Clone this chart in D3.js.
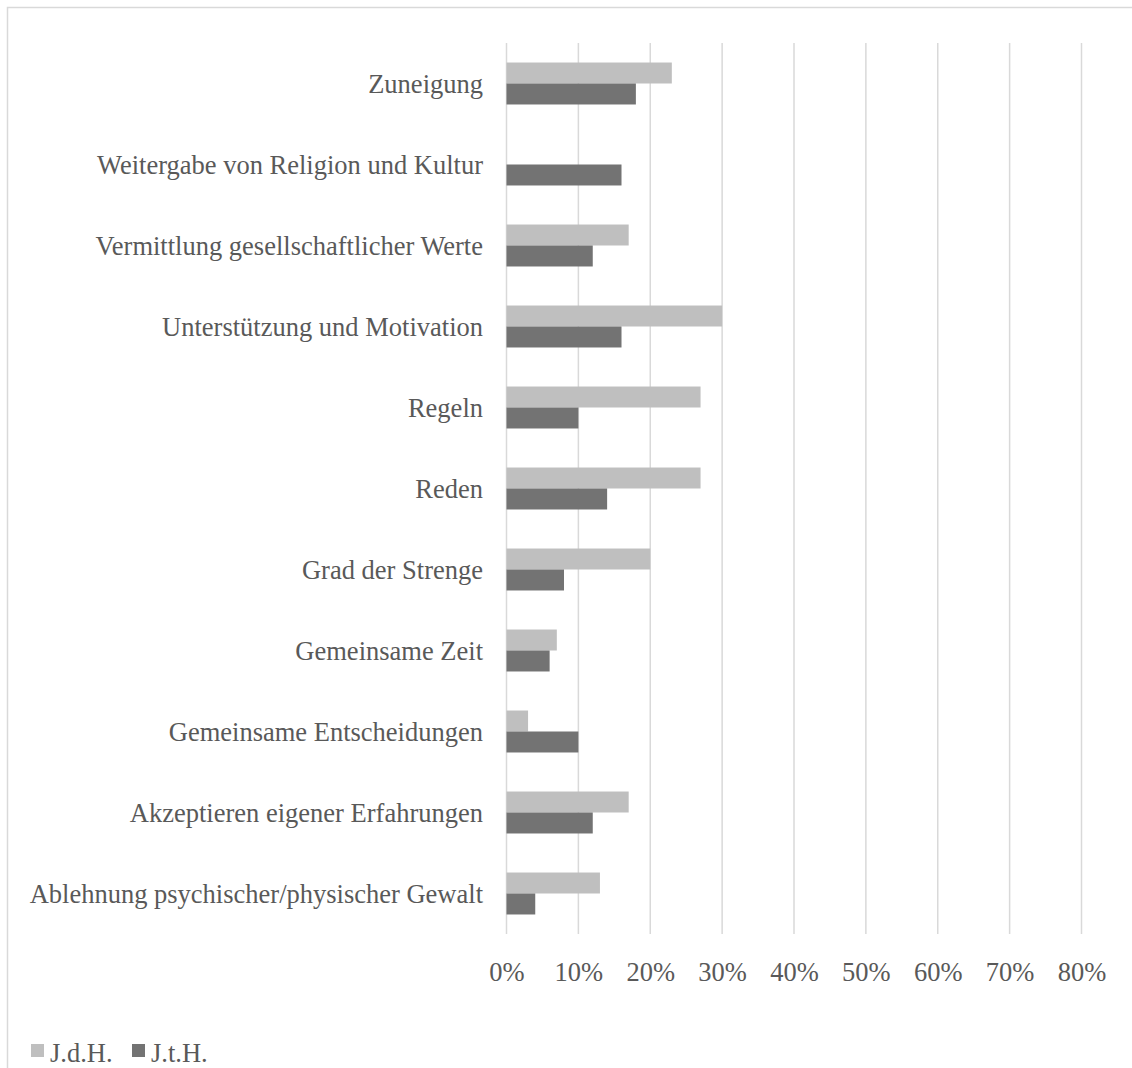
<!DOCTYPE html>
<html><head><meta charset="utf-8">
<script src="https://cdn.jsdelivr.net/npm/d3@7"></script>
<style>body{margin:0;background:#fff}svg{display:block}</style>
</head><body>
<svg id="c" width="1132" height="1068"></svg>
<script>
const categories = ["Zuneigung","Weitergabe von Religion und Kultur","Vermittlung gesellschaftlicher Werte","Unterstützung und Motivation","Regeln","Reden","Grad der Strenge","Gemeinsame Zeit","Gemeinsame Entscheidungen","Akzeptieren eigener Erfahrungen","Ablehnung psychischer/physischer Gewalt"];
const seriesNames = ["J.d.H.","J.t.H."];
const jdh = [23,0,17,30,27,27,20,7,3,17,13];
const jth = [18,16,12,16,10,14,8,6,10,12,4];
const ticks = [0,10,20,30,40,50,60,70,80];
const colors = ["#bfbfbf","#737373"];

const svg = d3.select("#c");
const font = "'Liberation Serif','Times New Roman',serif";
const txt = "#595959";
const fs = 26.5;

// outer border (partially off-canvas)
svg.append("rect").attr("x",7.5).attr("y",7.5).attr("width",1140).attr("height",1080)
  .attr("fill","none").attr("stroke","#d9d9d9").attr("stroke-width",1.5);

const x = d3.scaleLinear().domain([0,80]).range([506.5,1081.5]);
const y = d3.scaleBand().domain(categories).range([43,934]).paddingInner(0).paddingOuter(0);
const inner = d3.scaleBand().domain(seriesNames).range([0,y.bandwidth()]).paddingInner(0).paddingOuter(0.93);

// gridlines
svg.append("g").selectAll("line").data(ticks).join("line")
  .attr("x1",d=>x(d)).attr("x2",d=>x(d)).attr("y1",43).attr("y2",934)
  .attr("stroke","#d9d9d9").attr("stroke-width",1.5);

// bars
const series = [jdh,jth];
series.forEach((vals,si)=>{
  svg.append("g").selectAll("rect").data(categories).join("rect")
    .attr("x",x(0)).attr("y",(c)=>y(c)+inner(seriesNames[si]))
    .attr("width",(c,i)=>x(vals[i])-x(0)).attr("height",inner.bandwidth())
    .attr("fill",colors[si]);
});

// x axis
const xa = svg.append("g").attr("transform","translate(0,972)")
  .call(d3.axisBottom(x).tickValues(ticks).tickFormat(d=>d+"%").tickSize(0).tickPadding(0));
xa.select(".domain").remove();
xa.selectAll("text").attr("font-family",font).attr("font-size",fs).attr("fill",txt).attr("dy","0.35em");

// y axis
const ya = svg.append("g").attr("transform","translate(483,0)")
  .call(d3.axisLeft(y).tickSize(0).tickPadding(0));
ya.select(".domain").remove();
ya.selectAll("text").attr("font-family",font).attr("font-size",fs).attr("fill",txt).attr("dy","0.35em");

// legend
const lx = [31,132];
seriesNames.forEach((n,i)=>{
  svg.append("rect").attr("x",lx[i]).attr("y",1044).attr("width",13).attr("height",13).attr("fill",colors[i]);
  svg.append("text").attr("x",lx[i]+19).attr("y",1062).attr("font-family",font).attr("font-size",fs).attr("fill",txt).text(n);
});
</script>
</body></html>
